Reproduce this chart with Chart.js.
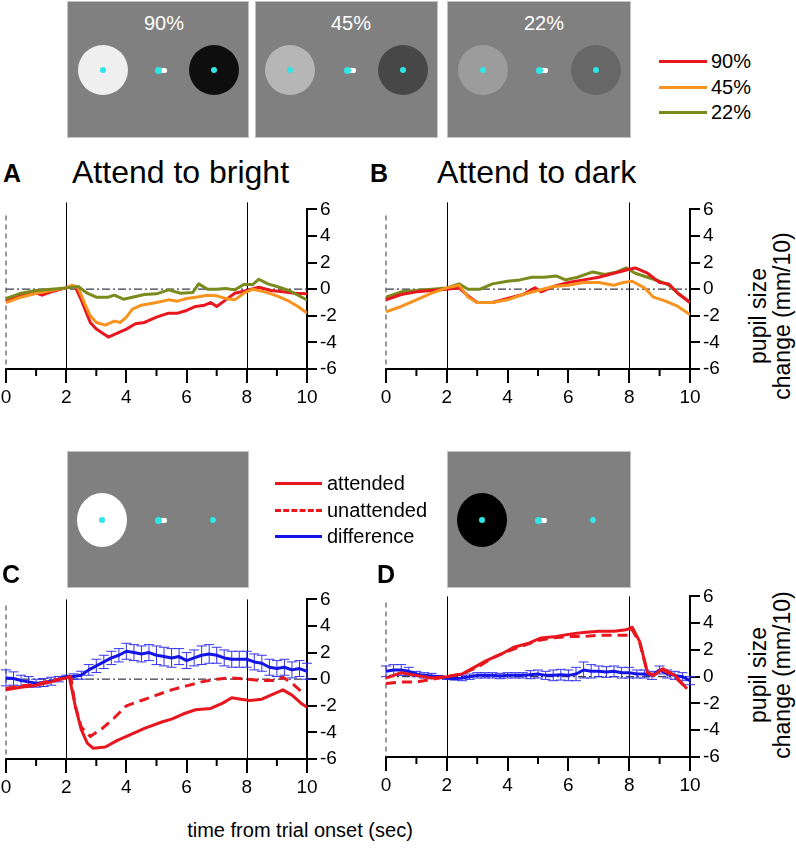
<!DOCTYPE html>
<html>
<head>
<meta charset="utf-8">
<script src="https://cdn.jsdelivr.net/npm/chart.js@4.4.0/dist/chart.umd.min.js"></script>
<style>
  body { margin: 0; width: 796px; height: 853px; position: relative; overflow: hidden; background: #fff;
         font-family: "Liberation Sans", Arial, sans-serif; color: #000; }
  .abs { position: absolute; }
  .box { position: absolute; background: #808080; border: 1px solid #c4c4c4; box-sizing: border-box; }
  .disc { position: absolute; border-radius: 50%; }
  .pct { position: absolute; color: #fff; font-size: 20px; transform: translate(-50%, -50%); }
  .lab { position: absolute; font-weight: bold; font-size: 25px; line-height: 1; }
  .ttl { position: absolute; font-size: 32px; line-height: 1; white-space: nowrap; }
  .leg { position: absolute; font-size: 20px; line-height: 1; white-space: nowrap; }
  .ytitle { position: absolute; font-size: 23px; white-space: nowrap; transform: translate(-50%, -50%) rotate(-90deg); }
  canvas { position: absolute; }
</style>
</head>
<body>
<canvas id="chartA"></canvas>
<canvas id="chartB"></canvas>
<canvas id="chartC"></canvas>
<canvas id="chartD"></canvas>

<script>
// ---- data (seconds from trial onset, pupil size change in mm/10) ----
const xTicks = [0, 2, 4, 6, 8, 10];
const yTicks = [-6, -4, -2, 0, 2, 4, 6];
const contrastLabels = ['90%', '45%', '22%'];
const conditionLabels = ['attended', 'unattended', 'difference'];

// A: attend to bright
const timeA90 = [0, 0.5, 1.0, 1.2, 1.5, 2.0, 2.3, 2.5, 2.8, 3.0, 3.4, 3.7, 4.0, 4.3, 4.6, 5.0, 5.4, 5.7, 6.0, 6.3, 6.6, 6.8, 7.0, 7.3, 7.6, 8.0, 8.4, 8.8, 9.2, 9.6, 10];
const pupilA90 = [-0.9, -0.5, -0.3, -0.45, -0.2, 0.1, 0.2, -0.8, -2.5, -3.0, -3.6, -3.3, -3.0, -2.6, -2.5, -2.1, -1.8, -1.8, -1.6, -1.3, -1.2, -1.0, -1.3, -0.8, -0.3, -0.1, 0.15, -0.1, -0.2, -0.3, -0.35];
const timeA45 = [0, 0.5, 1.0, 1.5, 2.0, 2.2, 2.4, 2.6, 2.8, 3.0, 3.3, 3.6, 3.8, 4.0, 4.2, 4.5, 5.0, 5.4, 5.7, 6.0, 6.3, 6.7, 7.0, 7.3, 7.6, 7.9, 8.2, 8.6, 9.0, 9.4, 9.7, 10];
const pupilA45 = [-1.0, -0.6, -0.3, -0.1, 0.1, 0.3, 0.1, -1.0, -2.0, -2.5, -2.7, -2.4, -2.5, -2.1, -1.5, -1.2, -1.0, -0.8, -0.9, -0.7, -0.6, -0.45, -0.5, -0.7, -0.8, -0.3, 0, -0.2, -0.5, -0.9, -1.3, -1.8];
const timeA22 = [0, 0.5, 1.0, 1.5, 2.0, 2.4, 2.7, 3.0, 3.4, 3.6, 3.9, 4.2, 4.6, 5.0, 5.4, 5.8, 6.2, 6.4, 6.7, 7.0, 7.3, 7.6, 7.9, 8.2, 8.4, 8.7, 9.0, 9.4, 10];
const pupilA22 = [-0.7, -0.3, -0.1, 0, 0.1, 0.2, -0.3, -0.6, -0.6, -0.45, -0.75, -0.6, -0.4, -0.35, -0.05, -0.3, -0.25, 0.4, 0, 0, 0.05, -0.05, 0.35, 0.35, 0.75, 0.4, 0.2, -0.1, -0.8];

// B: attend to dark
const timeB90 = [0, 0.5, 1.0, 1.5, 2.0, 2.4, 2.7, 3.0, 3.5, 4.0, 4.5, 4.9, 5.1, 5.5, 6.0, 6.5, 7.0, 7.5, 8.0, 8.2, 8.6, 9.0, 9.3, 9.6, 10];
const pupilB90 = [-0.8, -0.4, -0.2, -0.1, 0, 0.1, -0.5, -1.0, -1.0, -0.7, -0.4, 0.1, -0.2, 0.2, 0.5, 0.7, 0.9, 1.2, 1.5, 1.6, 1.2, 0.5, 0.4, -0.3, -1.0];
const timeB45 = [0, 0.5, 1.0, 1.5, 2.0, 2.4, 2.7, 3.0, 3.5, 4.0, 4.5, 5.0, 5.5, 6.0, 6.5, 7.0, 7.5, 7.8, 8.1, 8.5, 8.8, 9.2, 9.6, 10];
const pupilB45 = [-1.7, -1.3, -0.8, -0.3, 0.1, 0.3, -0.6, -1.0, -1.0, -0.8, -0.4, -0.1, 0.2, 0.3, 0.5, 0.5, 0.3, 0.5, 0.6, 0.1, -0.6, -0.9, -1.3, -1.9];
const timeB22 = [0, 0.5, 1.0, 1.5, 2.0, 2.4, 2.7, 3.1, 3.5, 4.0, 4.4, 4.8, 5.2, 5.6, 5.9, 6.3, 6.8, 7.2, 7.6, 7.9, 8.2, 8.6, 9.0, 9.3, 9.6, 10];
const pupilB22 = [-0.6, -0.2, -0.1, 0, 0.1, 0.4, 0, 0, 0.4, 0.6, 0.7, 0.9, 0.9, 1.0, 0.7, 0.9, 1.3, 1.1, 1.3, 1.6, 1.2, 0.9, 0.6, 0.3, -0.3, -1.0];

// C: bright stimulus, attended vs unattended
const timeCAtt = [0, 0.5, 1.0, 1.5, 2.0, 2.1, 2.3, 2.5, 2.7, 2.9, 3.3, 3.7, 4.1, 4.6, 5.2, 5.5, 5.9, 6.3, 6.8, 7.2, 7.5, 7.8, 8.1, 8.5, 8.8, 9.2, 9.5, 9.8, 10];
const pupilCAtt = [-0.8, -0.6, -0.45, -0.2, 0.1, 0.2, -2.0, -3.8, -4.8, -5.2, -5.1, -4.6, -4.2, -3.7, -3.2, -3.0, -2.6, -2.3, -2.2, -1.8, -1.4, -1.5, -1.6, -1.5, -1.2, -0.8, -1.2, -1.8, -2.1];
const timeCUna = [0, 0.5, 1.0, 1.5, 2.0, 2.15, 2.3, 2.5, 2.8, 3.2, 3.6, 4.0, 4.5, 5.0, 5.5, 6.0, 6.5, 7.0, 7.5, 8.0, 8.5, 9.0, 9.2, 9.5, 9.9];
const pupilCUna = [-0.7, -0.5, -0.4, -0.1, 0.1, 0.2, -2.0, -3.6, -4.3, -3.7, -2.9, -2.0, -1.6, -1.2, -0.8, -0.5, -0.2, 0.0, 0.1, 0.0, -0.1, -0.1, 0.15, -0.3, -1.1];
const timeDiff = [0, 0.25, 0.5, 0.75, 1, 1.25, 1.5, 1.75, 2, 2.25, 2.5, 2.75, 3, 3.25, 3.5, 3.75, 4, 4.25, 4.5, 4.75, 5, 5.25, 5.5, 5.75, 6, 6.25, 6.5, 6.75, 7, 7.25, 7.5, 7.75, 8, 8.25, 8.5, 8.75, 9, 9.25, 9.5, 9.75, 10];
const pupilCDiff = [0.1, 0.05, -0.1, -0.2, -0.3, -0.25, -0.15, 0, 0.2, 0.2, 0.3, 0.7, 1.0, 1.3, 1.6, 1.8, 2.1, 2.0, 1.9, 2.0, 1.8, 1.7, 1.6, 1.7, 1.4, 1.6, 1.8, 1.9, 1.8, 1.6, 1.5, 1.5, 1.5, 1.3, 1.2, 0.9, 0.8, 0.9, 0.7, 0.8, 0.6];
const errCDiff = [0.6, 0.5, 0.4, 0.4, 0.3, 0.3, 0.3, 0.2, 0.1, 0.2, 0.3, 0.4, 0.5, 0.5, 0.5, 0.5, 0.6, 0.6, 0.6, 0.6, 0.7, 0.7, 0.7, 0.6, 0.6, 0.6, 0.7, 0.7, 0.6, 0.6, 0.6, 0.6, 0.6, 0.6, 0.6, 0.6, 0.6, 0.6, 0.6, 0.6, 0.6];

// D: dark stimulus, attended vs unattended
const timeDAtt = [0, 0.5, 1.0, 1.5, 2.0, 2.2, 2.5, 2.9, 3.3, 3.8, 4.2, 4.7, 5.1, 5.6, 6.1, 6.5, 7.0, 7.5, 7.9, 8.1, 8.35, 8.6, 8.8, 9.1, 9.5, 9.9];
const pupilDAtt = [-0.1, 0.3, 0.1, -0.1, 0, 0.1, 0.2, 0.7, 1.2, 1.7, 2.2, 2.5, 2.9, 3.0, 3.2, 3.3, 3.4, 3.4, 3.5, 3.7, 2.6, 0.3, 0.1, 0.6, 0.1, -0.9];
const timeDUna = [0, 0.5, 1.0, 1.5, 2.0, 2.5, 3.0, 3.5, 4.0, 4.5, 5.0, 5.5, 6.0, 6.5, 7.0, 7.5, 8.0, 8.1, 8.35, 8.6, 8.8, 9.1, 9.5, 9.9];
const pupilDUna = [-0.5, -0.4, -0.4, -0.2, 0, 0.2, 0.7, 1.4, 1.9, 2.3, 2.7, 2.9, 3.0, 3.0, 3.1, 3.1, 3.1, 3.5, 2.5, 0.3, 0.1, 0.5, 0, -0.9];
const pupilDDiff = [0.4, 0.5, 0.5, 0.4, 0.2, 0.1, 0.05, 0, -0.1, -0.15, -0.1, 0, 0.1, 0.1, 0.1, 0.05, 0.1, 0.1, 0.1, 0.15, 0.2, 0.1, 0.1, 0.15, 0.1, 0.2, 0.5, 0.4, 0.4, 0.35, 0.4, 0.3, 0.3, 0.2, 0.2, 0.1, 0.5, 0.2, 0.1, 0, -0.3];
const errDDiff = [0.4, 0.4, 0.4, 0.3, 0.2, 0.2, 0.2, 0.1, 0.1, 0.1, 0.2, 0.2, 0.2, 0.2, 0.2, 0.2, 0.2, 0.2, 0.2, 0.3, 0.3, 0.3, 0.4, 0.4, 0.4, 0.5, 0.6, 0.5, 0.4, 0.4, 0.4, 0.4, 0.4, 0.3, 0.3, 0.3, 0.3, 0.3, 0.3, 0.3, 0.3];

const RED = '#e8161e', ORANGE = '#f7931e', OLIVE = '#7b8a1c', BLUE = '#1414e6';
const FONT = '"Liberation Sans", Arial, sans-serif';

function pts(xs, ys) {
  return xs.map((x, i) => ({ x: x, y: ys[i] }));
}

function series(label, xs, ys, color, extra) {
  return Object.assign({
    label: label, data: pts(xs, ys), borderColor: color, backgroundColor: color,
    borderWidth: 3, pointRadius: 0, tension: 0, fill: false, borderJoinStyle: 'round'
  }, extra || {});
}

// reference lines, minor ticks and error bars, all placed through the chart scales
const panelMarks = {
  id: 'panelMarks',
  beforeDatasetsDraw(chart, args, opts) {
    const { ctx, chartArea: a, scales: { x, y } } = chart;
    ctx.save();
    // zero line (dash-dot)
    const y0 = y.getPixelForValue(0);
    ctx.strokeStyle = '#3a3a4a';
    ctx.lineWidth = 1.2;
    ctx.setLineDash([8, 3, 2, 3]);
    ctx.beginPath(); ctx.moveTo(a.left, y0); ctx.lineTo(a.right, y0); ctx.stroke();
    // trial onset (dashed)
    const x0 = x.getPixelForValue(0);
    ctx.strokeStyle = '#555';
    ctx.setLineDash([5, 4]);
    ctx.beginPath(); ctx.moveTo(x0, a.top + 6); ctx.lineTo(x0, a.bottom); ctx.stroke();
    // stimulus on/off
    ctx.setLineDash([]);
    ctx.strokeStyle = '#000';
    ctx.lineWidth = 1;
    [2, 8].forEach(v => {
      const px = Math.round(x.getPixelForValue(v)) + 0.5;
      ctx.beginPath(); ctx.moveTo(px, a.top - opts.lineAbove); ctx.lineTo(px, a.bottom); ctx.stroke();
    });
    // error bars
    chart.data.datasets.forEach(ds => {
      if (!ds.errors) return;
      ctx.strokeStyle = '#3434f0';
      ctx.lineWidth = 1;
      ds.data.forEach((p, i) => {
        const px = x.getPixelForValue(p.x);
        const hi = y.getPixelForValue(p.y + ds.errors[i]);
        const lo = y.getPixelForValue(p.y - ds.errors[i]);
        ctx.beginPath();
        ctx.moveTo(px, hi); ctx.lineTo(px, lo);
        ctx.moveTo(px - 5, hi); ctx.lineTo(px + 5, hi);
        ctx.moveTo(px - 5, lo); ctx.lineTo(px + 5, lo);
        ctx.stroke();
      });
    });
    ctx.restore();
  },
  afterDraw(chart) {
    const { ctx, chartArea: a, scales: { x } } = chart;
    ctx.save();
    ctx.strokeStyle = '#000';
    ctx.lineWidth = 2;
    [1, 3, 5, 7, 9].forEach(v => {
      const px = x.getPixelForValue(v);
      ctx.beginPath(); ctx.moveTo(px, a.bottom); ctx.lineTo(px, a.bottom + 7); ctx.stroke();
    });
    ctx.restore();
  }
};

function makePanel(id, area, datasets, lineAbove) {
  const padL = 10, padT = 12, axisW = 46, axisH = 42;
  const cv = document.getElementById(id);
  cv.width = padL + area.w + axisW;
  cv.height = padT + area.h + axisH;
  cv.style.left = (area.left - padL) + 'px';
  cv.style.top = (area.top - padT) + 'px';
  new Chart(cv, {
    type: 'line',
    data: { datasets: datasets },
    options: {
      responsive: false,
      animation: false,
      layout: { padding: { left: padL, top: padT, right: 0, bottom: 0 } },
      plugins: { legend: { display: false }, tooltip: { enabled: false }, panelMarks: { lineAbove: lineAbove } },
      scales: {
        x: {
          type: 'linear', min: 0, max: 10,
          afterBuildTicks: s => { s.ticks = [0, 1, 2, 3, 4, 5, 6, 7, 8, 9, 10].map(v => ({ value: v })); },
          ticks: { autoSkip: false, maxRotation: 0, padding: 3, color: '#000',
                   font: { family: FONT, size: 19 },
                   callback: v => xTicks.includes(v) ? String(v) : '' },
          grid: { drawOnChartArea: false, tickLength: 14, lineWidth: 2,
                  color: c => (c.tick && xTicks.includes(c.tick.value)) ? '#000' : 'rgba(0,0,0,0)' },
          border: { color: '#000', width: 2 },
          afterFit: s => { s.height = axisH; }
        },
        y: {
          position: 'right', min: -6, max: 6,
          afterBuildTicks: s => { s.ticks = yTicks.map(v => ({ value: v })); },
          ticks: { padding: 3, color: '#000', font: { family: FONT, size: 19 } },
          grid: { drawOnChartArea: false, tickLength: 10, lineWidth: 2, color: '#000' },
          border: { color: '#000', width: 2 },
          afterFit: s => { s.width = axisW; }
        }
      }
    },
    plugins: [panelMarks]
  });
}

makePanel('chartA', { left: 6, top: 207, w: 301, h: 162 }, [
  series(contrastLabels[2], timeA22, pupilA22, OLIVE),
  series(contrastLabels[1], timeA45, pupilA45, ORANGE),
  series(contrastLabels[0], timeA90, pupilA90, RED)
], 7);

makePanel('chartB', { left: 386, top: 207, w: 304, h: 162 }, [
  series(contrastLabels[1], timeB45, pupilB45, ORANGE),
  series(contrastLabels[0], timeB90, pupilB90, RED),
  series(contrastLabels[2], timeB22, pupilB22, OLIVE)
], 7);

makePanel('chartC', { left: 6, top: 597, w: 301, h: 162 }, [
  series(conditionLabels[1], timeCUna, pupilCUna, RED, { borderDash: [10, 6] }),
  series(conditionLabels[0], timeCAtt, pupilCAtt, RED),
  series(conditionLabels[2], timeDiff, pupilCDiff, BLUE, { errors: errCDiff })
], 0);

makePanel('chartD', { left: 386, top: 594, w: 304, h: 163 }, [
  series(conditionLabels[1], timeDUna, pupilDUna, RED, { borderDash: [10, 6] }),
  series(conditionLabels[0], timeDAtt, pupilDAtt, RED),
  series(conditionLabels[2], timeDiff, pupilDDiff, BLUE, { errors: errDDiff })
], 0);

// ---- stimulus pictures, panel labels, legends ----
function el(cls, css, text) {
  const d = document.createElement('div');
  d.className = cls;
  Object.assign(d.style, css);
  if (text !== undefined) d.textContent = text;
  document.body.appendChild(d);
  return d;
}
function disc(cx, cy, rx, ry, color) {
  el('disc', { left: (cx - rx) + 'px', top: (cy - ry) + 'px', width: 2 * rx + 'px', height: 2 * ry + 'px', background: color });
}
function fixation(cx, cy) {
  el('abs', { left: (cx + 1) + 'px', top: (cy - 2) + 'px', width: '8px', height: '5px', background: '#fff', borderRadius: '2px' });
  disc(cx, cy, 3.5, 3.5, '#2ee6e6');
}
function box(l, t, r, b) {
  el('box', { left: l + 'px', top: t + 'px', width: (r - l) + 'px', height: (b - t) + 'px' });
}

// top: three contrast levels
const topBoxes = [
  { l: 67, r: 249, pctX: 164, left: 103, right: 214, fix: 158, cL: '#efefef', cR: '#0e0e0e' },
  { l: 255, r: 438, pctX: 351, left: 290, right: 403, fix: 347, cL: '#b6b6b6', cR: '#474747' },
  { l: 447, r: 631, pctX: 544, left: 483, right: 596, fix: 539, cL: '#9c9c9c', cR: '#676767' }
];
topBoxes.forEach((b, i) => {
  box(b.l, 1, b.r, 138);
  el('pct', { left: b.pctX + 'px', top: '23px' }, contrastLabels[i]);
  disc(b.left, 70, 25, 25, b.cL);
  disc(b.right, 70, 25, 25, b.cR);
  disc(b.left, 70, 3, 3, '#2ee6e6');
  disc(b.right, 70, 3, 3, '#2ee6e6');
  fixation(b.fix, 70);
});

// bottom: bright / dark single stimulus
box(67, 451, 249, 588);
disc(102, 520, 25, 27, '#ffffff');
disc(102, 520, 3, 3, '#2ee6e6');
fixation(158, 520);
disc(213, 520, 3, 3, '#2ee6e6');
box(447, 451, 631, 588);
disc(482, 520, 25, 27, '#000000');
disc(482, 520, 3, 3, '#2ee6e6');
fixation(538, 520);
disc(593, 520, 3, 3, '#2ee6e6');

// legends
[RED, ORANGE, OLIVE].forEach((c, i) => {
  const yy = [61, 87, 112][i];
  el('abs', { left: '659px', top: (yy - 1.5) + 'px', width: '48px', height: '3px', background: c });
  el('leg', { left: '711px', top: (yy - 10) + 'px' }, contrastLabels[i]);
});
[0, 1, 2].forEach(i => {
  const yy = [483, 510, 536][i];
  const css = { left: '275px', top: (yy - 1.5) + 'px', width: '47px', height: '0px',
                borderTop: '3px ' + (i === 1 ? 'dashed ' : 'solid ') + (i === 2 ? BLUE : RED) };
  el('abs', css);
  el('leg', { left: '327px', top: (yy - 10) + 'px' }, conditionLabels[i]);
});

// panel letters and titles
el('lab', { left: '3px', top: '161px' }, 'A');
el('ttl', { left: '72px', top: '156px' }, 'Attend to bright');
el('lab', { left: '370px', top: '161px' }, 'B');
el('ttl', { left: '437px', top: '156px' }, 'Attend to dark');
el('lab', { left: '2px', top: '562px' }, 'C');
el('lab', { left: '377px', top: '562px' }, 'D');

// axis titles
el('ytitle', { left: '758px', top: '316px' }, 'pupil size');
el('ytitle', { left: '782px', top: '316px' }, 'change (mm/10)');
el('ytitle', { left: '758px', top: '675px' }, 'pupil size');
el('ytitle', { left: '782px', top: '675px' }, 'change (mm/10)');
el('abs', { left: '300px', top: '830px', transform: 'translate(-50%, -50%)', fontSize: '20px', whiteSpace: 'nowrap' }, 'time from trial onset (sec)');
</script>
</body>
</html>
